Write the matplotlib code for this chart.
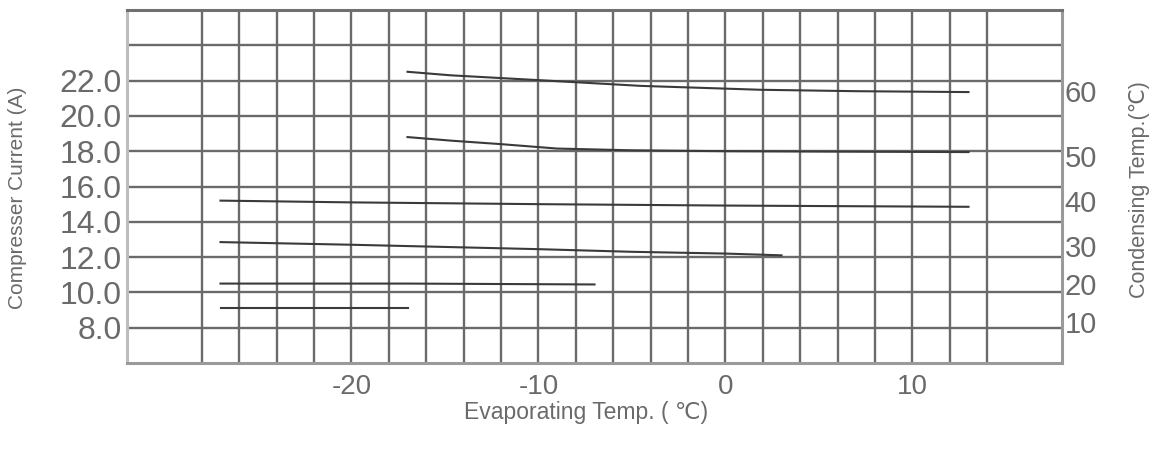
import matplotlib
matplotlib.use("Agg")
import matplotlib.pyplot as plt
import numpy as np

# ---------------- data ----------------
evap_ticks = [-20, -10, 0, 10]
current_ticks = [8.0, 10.0, 12.0, 14.0, 16.0, 18.0, 20.0, 22.0]
cond_labels = [10, 20, 30, 40, 50, 60]
# condensing-temperature scale expressed on the current axis (non-linear scale)
cond_scale_current = [8.3, 10.5, 12.65, 15.2, 17.7, 21.4]

evap_60 = [-17, -14.7, -10.4, -4.5, 1.9, 7, 13]
cur_60 = [22.5, 22.3, 22.05, 21.7, 21.48, 21.4, 21.35]

evap_50 = [-17, -14.7, -12, -9, -5, 0, 13]
cur_50 = [18.8, 18.6, 18.4, 18.15, 18.05, 18.0, 17.95]

evap_40 = [-27, -20, -10, 0, 13]
cur_40 = [15.2, 15.1, 15.0, 14.92, 14.85]

evap_30 = [-27, -20, -10, -5, 0, 3]
cur_30 = [12.85, 12.7, 12.45, 12.3, 12.2, 12.1]

evap_20 = [-27, -17, -7]
cur_20 = [10.5, 10.5, 10.45]

evap_10 = [-27, -17]
cur_10 = [9.1, 9.1]

curves = [(evap_60, cur_60), (evap_50, cur_50), (evap_40, cur_40),
          (evap_30, cur_30), (evap_20, cur_20), (evap_10, cur_10)]

# ---------------- figure ----------------
plt.rcParams['font.family'] = ['Liberation Sans', 'DejaVu Sans']
fig = plt.figure(figsize=(11.59, 4.53), dpi=100)
ax = fig.add_axes([127 / 1159, 90 / 453, 935 / 1159, 353 / 453])

ax.set_xlim(-32, 18)
ax.set_ylim(6, 26)

grid_col = '#6a6a6a'
for gx in np.arange(-28, 15, 2):
    ax.axvline(gx, color=grid_col, lw=1.7, zorder=1)
for gy in np.arange(8, 25, 2):
    ax.axhline(gy, color=grid_col, lw=1.7, zorder=1)

for ex, cy in curves:
    ax.plot(ex, cy, color='#3a3a3a', lw=1.5, zorder=3)

for side, col in [('left', '#bdbdbd'), ('right', '#9a9a9a'),
                  ('top', '#707070'), ('bottom', '#9a9a9a')]:
    ax.spines[side].set_color(col)
    ax.spines[side].set_linewidth(2.2)

ax.set_xticks(evap_ticks)
ax.set_xticklabels([str(v) for v in evap_ticks])
ax.set_yticks(current_ticks)
ax.set_yticklabels([f"{v:.1f}" for v in current_ticks])
ax.tick_params(axis='y', length=0, labelsize=23, colors='#6a6a6a', pad=4)
ax.tick_params(axis='x', length=0, labelsize=20, colors='#6a6a6a', pad=8)

ax2 = ax.twinx()
ax2.set_ylim(ax.get_ylim())
ax2.set_yticks(cond_scale_current)
ax2.set_yticklabels([str(v) for v in cond_labels])
ax2.tick_params(axis='y', length=0, labelsize=21, colors='#6a6a6a', pad=2)
for s in ax2.spines.values():
    s.set_visible(False)

fig.text(586 / 1159, 1 - 413 / 453, 'Evaporating Temp. ( \u2103)', ha='center',
         va='center', fontsize=16.5, color='#6a6a6a')
fig.text(18 / 1159, 1 - 198 / 453, 'Compresser Current (A)', ha='center',
         va='center', rotation=90, fontsize=15, color='#6a6a6a')
fig.text(1140 / 1159, 1 - 190 / 453, 'Condensing Temp.(\u2103)', ha='center',
         va='center', rotation=90, fontsize=15.5, color='#6a6a6a')

fig.savefig('out.png', dpi=100)
